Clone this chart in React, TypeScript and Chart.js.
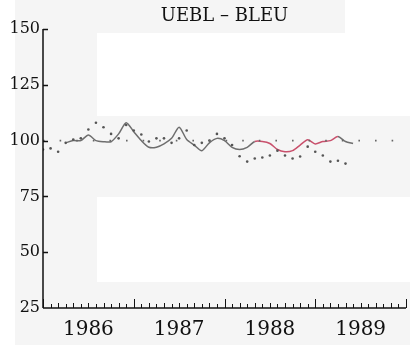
import React, { useEffect, useRef } from "react";
import { Chart, registerables } from "chart.js";

Chart.register(...registerables);

const titleText = "UEBL \u2013 BLEU";
const yearLabels = ["1986", "1987", "1988", "1989"];
const yearCenters = [6, 18, 30, 42];
const yTickValues = [25, 50, 75, 100, 125, 150];
const referenceLevel = 100;

const trendMonths = [3, 4, 5, 6, 7, 8, 9, 10, 11, 12, 13, 14, 15, 16, 17, 18, 19, 20, 21, 22, 23, 24, 25, 26, 27, 28, 29, 30, 31, 32, 33, 34, 35, 36, 37, 38, 39, 40, 41];
const trendValues = [99, 100, 100, 102.5, 100, 99.5, 99.5, 103, 108, 104, 100, 97, 97, 98.5, 101, 106, 100.5, 98, 95.5, 99, 101, 100, 97, 96, 97, 99.6, 99.6, 98.7, 96, 95, 95.5, 98, 100.4, 98.5, 99.6, 100, 101.8, 99.6, 98.7];
const redFrom = 28;
const redTo = 39;

const rawMonths = [0, 1, 2, 3, 4, 5, 6, 7, 8, 9, 10, 11, 12, 13, 14, 15, 16, 17, 18, 19, 20, 21, 22, 23, 24, 25, 26, 27, 28, 29, 30, 31, 32, 33, 34, 35, 36, 37, 38, 39, 40];
const rawValues = [96, 96.5, 95, 99, 100.5, 101, 105, 108, 106, 103, 101, 107, 104.5, 102.7, 99.6, 101, 101, 99, 101, 104.5, 98, 99, 100, 103, 101, 98, 93, 90.6, 92, 92.4, 93.3, 95.5, 93.3, 92, 92.9, 97.3, 95, 93.3, 90.6, 91, 89.7];

const GRAY = "#6e6e6e";
const RED = "#c9506c";
const INK = "#111";
const SERIF = "'DejaVu Serif', serif";

const backgroundPlugin = {
  id: "scanBackground",
  beforeDraw(chart: any) {
    const { ctx, width, height } = chart;
    ctx.save();
    ctx.fillStyle = "#f5f5f5";
    ctx.fillRect(0, 0, width, height);
    ctx.fillStyle = "#ffffff";
    ctx.fillRect(0, 0, 15, height);
    ctx.fillRect(97, 33, 248, 83);
    ctx.fillRect(345, 0, 65, 116);
    ctx.fillRect(97, 197, 313, 85);
    ctx.restore();
  },
};

const axesPlugin = {
  id: "oldAxes",
  afterDraw(chart: any) {
    const { ctx, chartArea, scales } = chart;
    const { left, right, top, bottom } = chartArea;
    const x = scales.x;
    const y = scales.y;
    ctx.save();
    ctx.fillStyle = INK;
    ctx.font = `18px ${SERIF}`;
    ctx.textAlign = "center";
    ctx.textBaseline = "middle";
    ctx.fillText(titleText, (left + right) / 2, 16);

    ctx.font = `20px ${SERIF}`;
    ctx.textBaseline = "alphabetic";
    yearLabels.forEach((label, i) => {
      ctx.fillText(label, x.getPixelForValue(yearCenters[i]), bottom + 27);
    });

    ctx.strokeStyle = INK;
    ctx.lineWidth = 1.5;
    ctx.beginPath();
    ctx.moveTo(left, top);
    ctx.lineTo(left, bottom);
    ctx.moveTo(left, bottom);
    ctx.lineTo(right, bottom);
    yTickValues.forEach((v) => {
      if (v === yTickValues[0]) return;
      const py = Math.round(y.getPixelForValue(v)) + 0.5;
      ctx.moveTo(left, py);
      ctx.lineTo(left + 5, py);
    });
    ctx.stroke();
    ctx.lineWidth = 1;
    ctx.beginPath();
    for (let m = 0; m <= x.max; m++) {
      const px = Math.round(x.getPixelForValue(m)) + 0.5;
      const len = m % 12 === 0 ? 9 : m % 2 === 0 ? 5 : 4;
      ctx.moveTo(px, bottom);
      ctx.lineTo(px, bottom - len);
    }
    ctx.stroke();
    ctx.restore();
  },
};

export default function App() {
  const canvasRef = useRef<HTMLCanvasElement>(null);

  useEffect(() => {
    const canvas = canvasRef.current;
    if (!canvas) return;
    const chart = new Chart(canvas, {
      type: "line",
      data: {
        datasets: [
          {
            label: "reference",
            data: [
              { x: 0, y: referenceLevel },
              { x: 48, y: referenceLevel },
            ],
            borderColor: "#666",
            borderWidth: 1.8,
            borderDash: [1.6, 15],
            pointRadius: 0,
            fill: false,
          },
          {
            label: "raw",
            data: rawMonths.map((m, i) => ({ x: m, y: rawValues[i] })),
            showLine: false,
            pointRadius: 1.3,
            pointBackgroundColor: "#555",
            pointBorderWidth: 0,
            borderColor: "#555",
          },
          {
            label: "trend",
            data: trendMonths.map((m, i) => ({ x: m, y: trendValues[i] })),
            borderColor: GRAY,
            borderWidth: 1.5,
            pointRadius: 0,
            tension: 0.25,
            fill: false,
            segment: {
              borderColor: (c: any) => {
                const m = trendMonths[c.p0DataIndex];
                return m >= redFrom && m < redTo ? RED : GRAY;
              },
            },
          },
        ],
      },
      options: {
        animation: false,
        responsive: false,
        maintainAspectRatio: false,
        layout: { padding: { left: 0, right: 0, top: 29, bottom: 0 } },
        plugins: {
          legend: { display: false },
          tooltip: { enabled: false },
          title: { display: false },
        },
        scales: {
          x: {
            type: "linear",
            min: 0,
            max: 48,
            grid: { display: false, drawTicks: false },
            border: { display: false },
            ticks: { display: false },
            afterFit: (scale: any) => {
              scale.height = 37;
            },
          },
          y: {
            type: "linear",
            min: 25,
            max: 150,
            grid: { display: false, drawTicks: false },
            border: { display: false },
            afterBuildTicks: (scale: any) => {
              scale.ticks = yTickValues.map((v) => ({ value: v }));
            },
            afterFit: (scale: any) => {
              scale.width = 43;
            },
            ticks: {
              padding: 3,
              color: INK,
              font: { family: SERIF, size: 16 },
            },
          },
        },
      },
      plugins: [backgroundPlugin, axesPlugin],
    } as any);
    return () => chart.destroy();
  }, []);

  return (
    <div style={{ position: "absolute", left: 0, top: 0, width: 410, height: 345 }}>
      <canvas ref={canvasRef} width={410} height={345} />
    </div>
  );
}
